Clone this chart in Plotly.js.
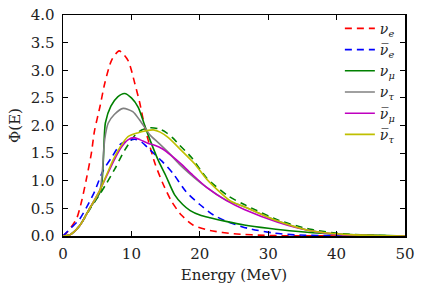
<!DOCTYPE html>
<html><head><meta charset="utf-8">
<script src="https://cdn.plot.ly/plotly-3.0.1.min.js"></script>
<style>html,body{margin:0;padding:0;background:#fff}#c{width:422px;height:296px}</style>
</head><body><div id="c"></div>
<script>
// Energies (MeV) and flux values
const nueE  = [0, 0.7, 2, 2.7, 3.4, 4.15, 4.6, 5.4, 6.1, 7.1, 8.2, 9.5, 10.5, 11.2, 12, 13.4, 14.6, 15.9, 17.3, 19, 21.5, 25, 30, 35, 50];
const nueY  = [0, 0.08, 0.32, 0.62, 1.02, 1.5, 1.9, 2.34, 2.76, 3.18, 3.35, 3.18, 2.76, 2.42, 1.95, 1.33, 0.95, 0.62, 0.38, 0.2, 0.1, 0.04, 0.01, 0.003, 0];

const anueE = [0, 1.2, 2.4, 3.5, 4.6, 5.85, 7.1, 8.5, 10.5, 11.5, 12.7, 14.5, 16.1, 18, 20, 22, 24, 27, 31, 34, 40, 50];
const anueY = [0, 0.15, 0.3, 0.53, 0.8, 1.18, 1.42, 1.67, 1.75, 1.7, 1.56, 1.35, 1.13, 0.8, 0.57, 0.38, 0.26, 0.14, 0.05, 0.02, 0.005, 0];

const numuE = [0, 1, 2.4, 3.9, 5.5, 6.2, 7, 8, 9, 10, 11, 12, 13, 14, 15, 16.3, 17.5, 18.6, 20, 21.5, 24, 26.5, 30, 34, 39, 45, 50];
const numuY = [0, 0.02, 0.18, 0.5, 0.82, 2.05, 2.35, 2.52, 2.58, 2.5, 2.33, 1.98, 1.65, 1.35, 1.1, 0.75, 0.57, 0.46, 0.38, 0.33, 0.26, 0.2, 0.14, 0.085, 0.04, 0.015, 0];

const nutauE = [0, 1, 2.4, 3.9, 5.4, 6.1, 6.6, 7.5, 8.8, 10.2, 11.2, 12.2, 12.7, 14, 15.5, 17, 18.5, 21, 24, 26.5, 31.4, 36, 41, 50];
const nutauY = [0, 0.02, 0.18, 0.5, 0.83, 1.75, 2.04, 2.2, 2.31, 2.25, 2.1, 1.92, 1.83, 1.68, 1.5, 1.3, 1.13, 0.88, 0.64, 0.53, 0.27, 0.1, 0.02, 0];

const anumuE = [0, 1, 2.4, 3.9, 5.4, 6.5, 7.5, 8.5, 9.5, 10.4, 11.3, 12.4, 13.5, 14.5, 15.9, 17.3, 19, 21, 23.9, 26.5, 31.4, 36, 41, 50];
const anumuY = [0, 0.02, 0.18, 0.5, 0.83, 1.12, 1.38, 1.6, 1.74, 1.78, 1.74, 1.68, 1.64, 1.58, 1.45, 1.3, 1.1, 0.88, 0.64, 0.48, 0.25, 0.1, 0.02, 0];

const anutauE = [0, 1, 2.4, 3.9, 5.4, 6.35, 7.3, 8.3, 9.5, 11, 12, 13.2, 14.2, 15.4, 17.3, 19.3, 21, 24.4, 26.5, 31.4, 36, 41, 46, 50];
const anutauY = [0, 0.02, 0.18, 0.5, 0.83, 1.1, 1.37, 1.6, 1.8, 1.87, 1.9, 1.92, 1.88, 1.78, 1.55, 1.3, 1.03, 0.64, 0.53, 0.27, 0.1, 0.03, 0.01, 0];

const extraE = [0, 1, 2.4, 4, 5.5, 6.35, 7.6, 9, 10.5, 11.5, 12.8, 14, 15, 16, 17, 18.8, 21, 24.2, 26.5, 31.4, 36.2, 41, 46, 50];
const extraY = [0, 0.02, 0.18, 0.5, 0.78, 0.95, 1.22, 1.55, 1.82, 1.92, 1.96, 1.94, 1.88, 1.78, 1.65, 1.42, 1.05, 0.72, 0.57, 0.29, 0.12, 0.04, 0.01, 0];

const labels = ['<i>ν</i><sub><i>e</i></sub>', '<i>ν\u0305</i><sub><i>e</i></sub>', '<i>ν</i><sub><i>μ</i></sub>',
                '<i>ν</i><sub><i>τ</i></sub>', '<i>ν\u0305</i><sub><i>μ</i></sub>', '<i>ν\u0305</i><sub><i>τ</i></sub>'];
const xTicks = [0, 10, 20, 30, 40, 50];
const yTicks = [0, 0.5, 1, 1.5, 2, 2.5, 3, 3.5, 4];

function tr(x, y, name, color, dash, show) {
  return {x: x, y: y, name: name, type: 'scatter', mode: 'lines', showlegend: show,
    line: {color: color, width: 1.6, dash: dash, shape: 'spline', smoothing: 0.7}};
}
const data = [
  tr(extraE, extraY, '', '#008000', '7px,5px', false),
  tr(nueE, nueY, labels[0], '#ff0000', '7px,5px', true),
  tr(anueE, anueY, labels[1], '#0000ff', '7px,5px', true),
  tr(numuE, numuY, labels[2], '#008000', 'solid', true),
  tr(nutauE, nutauY, labels[3], '#808080', 'solid', true),
  tr(anumuE, anumuY, labels[4], '#bf00bf', 'solid', true),
  tr(anutauE, anutauY, labels[5], '#bfbf00', 'solid', true)
];
const tf = {family: 'DejaVu Serif', size: 15, color: '#222'};
const axBase = {showline: true, linecolor: '#000', linewidth: 1.5, mirror: 'ticks', ticks: 'inside',
  ticklen: 5, tickwidth: 1, tickcolor: '#000', showgrid: false, zeroline: false, tickfont: tf};
const layout = {
  width: 422, height: 296,
  margin: {l: 63, r: 17, t: 15, b: 60},
  paper_bgcolor: '#fff', plot_bgcolor: '#fff',
  font: {family: 'DejaVu Serif', color: '#222'},
  xaxis: Object.assign({}, axBase, {range: [0, 50], tickvals: xTicks, ticktext: xTicks.map(String),
    ticklabelstandoff: 3,
    title: {text: 'Energy (MeV)', font: tf, standoff: 8}}),
  yaxis: Object.assign({}, axBase, {range: [0, 4], tickvals: yTicks, ticktext: yTicks.map(v => v.toFixed(1)),
    ticklabelstandoff: 4,
    title: {text: 'Φ(E)', font: tf, standoff: 6}}),
  legend: {x: 0.985, xanchor: 'right', y: 1.01, yanchor: 'top', bgcolor: 'rgba(0,0,0,0)',
    font: {family: 'DejaVu Serif', size: 14, color: '#222'}, itemwidth: 30, tracegroupgap: 0},
  showlegend: true
};
Plotly.newPlot('c', data, layout, {displayModeBar: false, staticPlot: true});
</script></body></html>
